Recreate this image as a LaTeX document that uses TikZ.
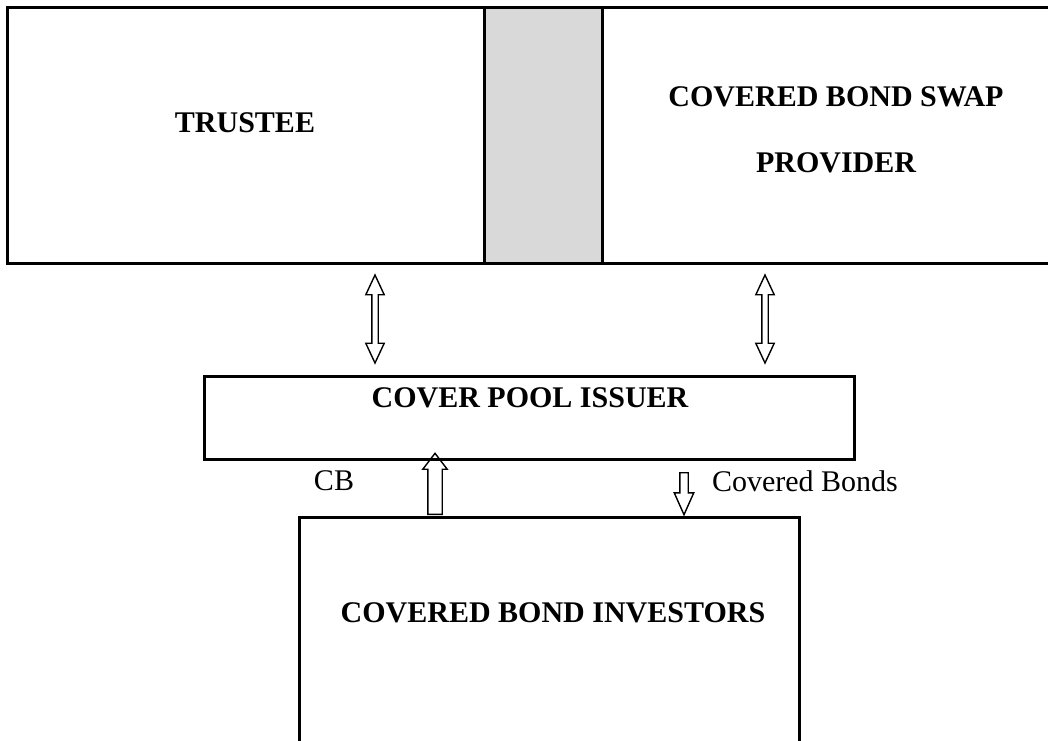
\documentclass[tikz,border=0pt]{standalone}
\usepackage{fontspec}
\setmainfont{Liberation Serif}
\usepackage{tikz}
\usetikzlibrary{shapes.arrows,positioning}

\begin{document}
\begin{tikzpicture}[
  x=0.5pt, y=-0.5pt,
  font=\fontsize{15}{18}\selectfont,
  box/.style={draw, line width=1.5pt, inner sep=0pt},
  head/.style={font=\fontsize{15}{33}\selectfont\bfseries, align=center},
  lbl/.style={font=\fontsize{15}{18}\selectfont},
  dbl/.style={draw, line width=0.7pt, shape=double arrow, rotate=90, inner xsep=0pt,
    inner ysep=1.25pt, minimum height=44pt, double arrow head extend=3pt,
    double arrow tip angle=50},
  upar/.style={draw, line width=0.7pt, shape=single arrow, rotate=90, inner xsep=0pt,
    inner ysep=3.25pt, minimum height=30.5pt, single arrow head extend=2.5pt,
    single arrow tip angle=75},
  dnar/.style={draw, line width=0.7pt, shape=single arrow, rotate=-90, inner xsep=0pt,
    inner ysep=1.75pt, minimum height=21pt, single arrow head extend=2.75pt,
    single arrow tip angle=48}
]
  \useasboundingbox (0,0) rectangle (1048,740);
  \clip (0,0) rectangle (1048,740);

  % parties
  \node[box, minimum width=524pt, minimum height=128pt] (parties) at (531,135) {};
  \node[box, fill=gray!30, minimum width=59pt, minimum height=128pt] (gap) at (543,135) {};
  \node[head] (trustee) at (245,123) {TRUSTEE};
  \node[head] (swap) at (836,130) {COVERED BOND SWAP\\PROVIDER};

  \node[box, minimum width=325pt, minimum height=41.5pt] (pool) at (529,417.5) {};
  \node[head] (issuer) at (530,398) {COVER POOL ISSUER};

  \node[box, minimum width=250pt, minimum height=123pt] (inv) at (549,640) {};
  \node[head] (investors) at (553,613) {COVERED BOND INVESTORS};

  % flows
  \node[dbl] (trflow) at (375,319) {};
  \node[dbl] (swflow) at (765,319) {};
  \node[upar] (cbflow) at (435,488.5) {};
  \node[dnar] (bdflow) at (684,489) {};
  \node[lbl] (cb) at (334,481) {CB};
  \node[lbl, anchor=west] (bonds) at (705,481) {Covered Bonds};
\end{tikzpicture}
\end{document}
